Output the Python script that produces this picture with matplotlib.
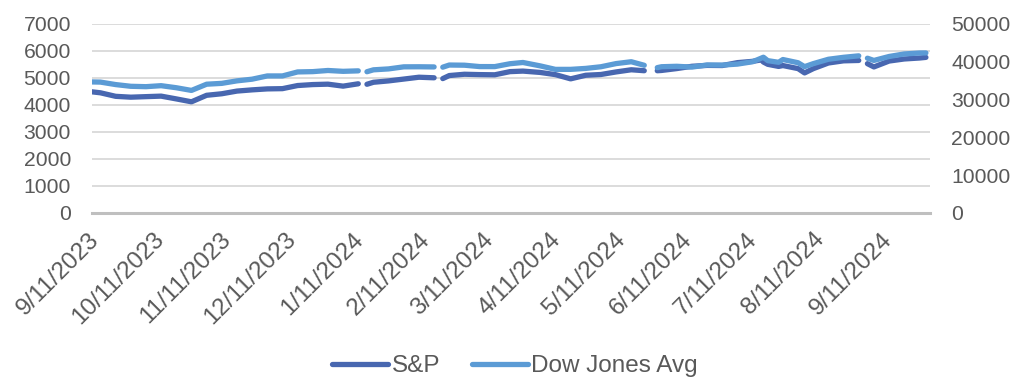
import numpy as np
import pandas as pd
import matplotlib
matplotlib.use("Agg")
import matplotlib.pyplot as plt
import matplotlib.transforms as mtransforms

# weekly closes, None where the holiday Monday is blank in the sheet
dates = [
    "2023-09-11", "2023-09-15", "2023-09-22", "2023-09-29", "2023-10-06", "2023-10-13",
    "2023-10-20", "2023-10-27", "2023-11-03", "2023-11-10", "2023-11-17", "2023-11-24",
    "2023-12-01", "2023-12-08", "2023-12-15", "2023-12-22", "2023-12-29", "2024-01-05",
    "2024-01-12", "2024-01-15", "2024-01-16", "2024-01-19", "2024-01-26", "2024-02-02",
    "2024-02-09", "2024-02-16", "2024-02-19", "2024-02-20", "2024-02-23", "2024-03-01",
    "2024-03-08", "2024-03-15", "2024-03-22", "2024-03-28", "2024-04-05", "2024-04-12",
    "2024-04-19", "2024-04-26", "2024-05-03", "2024-05-10", "2024-05-17", "2024-05-23",
    "2024-05-27", "2024-05-29", "2024-05-31", "2024-06-07", "2024-06-14", "2024-06-21",
    "2024-06-28", "2024-07-05", "2024-07-12", "2024-07-16", "2024-07-17", "2024-07-19",
    "2024-07-24", "2024-07-26", "2024-08-02", "2024-08-05", "2024-08-09", "2024-08-16",
    "2024-08-23", "2024-08-30", "2024-09-02", "2024-09-03", "2024-09-06", "2024-09-13",
    "2024-09-20", "2024-09-27", "2024-09-30",
]
sp500 = [
    4487, 4450, 4320, 4288, 4308, 4327,
    4224, 4117, 4358, 4415, 4514, 4559,
    4595, 4604, 4719, 4755, 4770, 4697,
    4784, None, 4766, 4840, 4891, 4959,
    5027, 5006, None, 4976, 5089, 5137,
    5124, 5117, 5234, 5254, 5204, 5123,
    4967, 5100, 5128, 5223, 5303, 5268,
    None, 5267, 5278, 5347, 5432, 5465,
    5460, 5567, 5615, 5667, 5589, 5505,
    5427, 5459, 5346, 5186, 5344, 5554,
    5634, 5648, None, 5529, 5408, 5626,
    5703, 5738, 5762,
]
dow = [
    34663, 34618, 33964, 33508, 33407, 33670,
    33127, 32418, 34061, 34283, 34947, 35390,
    36246, 36248, 37306, 37386, 37690, 37466,
    37593, None, 37361, 37864, 38109, 38654,
    38672, 38628, None, 38564, 39131, 39087,
    38723, 38715, 39476, 39807, 38904, 37983,
    37986, 38240, 38676, 39513, 40004, 39065,
    None, 38441, 38686, 38799, 38589, 39150,
    39119, 39376, 40001, 40954, 41198, 40288,
    39854, 40589, 39737, 38703, 39498, 40660,
    41175, 41563, None, 40937, 40345, 41394,
    42063, 42313, 42330,
]
tick_dates = pd.date_range("2023-09-11", "2024-09-11", freq=pd.DateOffset(months=1))

x = pd.to_datetime(dates)
sp = np.array([np.nan if v is None else v for v in sp500], dtype=float)
dj = np.array([np.nan if v is None else v for v in dow], dtype=float)

grey = "#595959"
plt.rcParams["font.family"] = ["Liberation Sans", "DejaVu Sans"]

fig = plt.figure(figsize=(10.2, 3.8), dpi=100)
ax = fig.add_axes([0.090, 0.4395, 0.822, 0.4975])
ax2 = ax.twinx()

l1, = ax.plot(x, sp, color="#4867b0", lw=3.8, solid_capstyle="round",
              solid_joinstyle="round", label="S&P")
l2, = ax2.plot(x, dj, color="#5b9bd5", lw=3.8, solid_capstyle="round",
               solid_joinstyle="round", label="Dow Jones Avg")

ax.set_ylim(0, 7000)
ax.set_yticks(range(0, 7001, 1000))
ax2.set_ylim(0, 50000)
ax2.set_yticks(range(0, 50001, 10000))
ax.set_xlim(pd.Timestamp("2023-09-11"), pd.Timestamp("2024-10-02"))

ax.grid(axis="y", color="#d9d9d9", lw=1.3)
ax.set_axisbelow(True)
for a in (ax, ax2):
    for s in a.spines.values():
        s.set_visible(False)
ax.spines["bottom"].set_visible(True)
ax.spines["bottom"].set_color("#bfbfbf")
ax.spines["bottom"].set_linewidth(2.2)

ax.set_xticks(tick_dates)
ax.set_xticklabels([f"{d.month}/{d.day}/{d.year}" for d in tick_dates],
                   rotation=45, ha="right", va="top", rotation_mode="anchor",
                   fontsize=17.5)
ax.tick_params(axis="x", length=0, pad=11, labelcolor=grey)
ax.tick_params(axis="y", length=0, pad=15, labelsize=15.2, labelcolor=grey)
ax2.tick_params(axis="y", length=0, pad=15, labelsize=15.2, labelcolor=grey)

# nudge the slanted date labels a little to the left
shift = mtransforms.ScaledTranslation(-4 / 100, 0, fig.dpi_scale_trans)
for lab in ax.get_xticklabels():
    lab.set_transform(lab.get_transform() + shift)

fig.legend([l1, l2], ["S&P", "Dow Jones Avg"], loc="center",
           bbox_to_anchor=(0.505, 0.036), ncol=2, frameon=False,
           fontsize=17.5, labelcolor=grey, handlelength=2.3,
           handletextpad=0.15, columnspacing=1.3)

fig.savefig("out.png", dpi=100)
